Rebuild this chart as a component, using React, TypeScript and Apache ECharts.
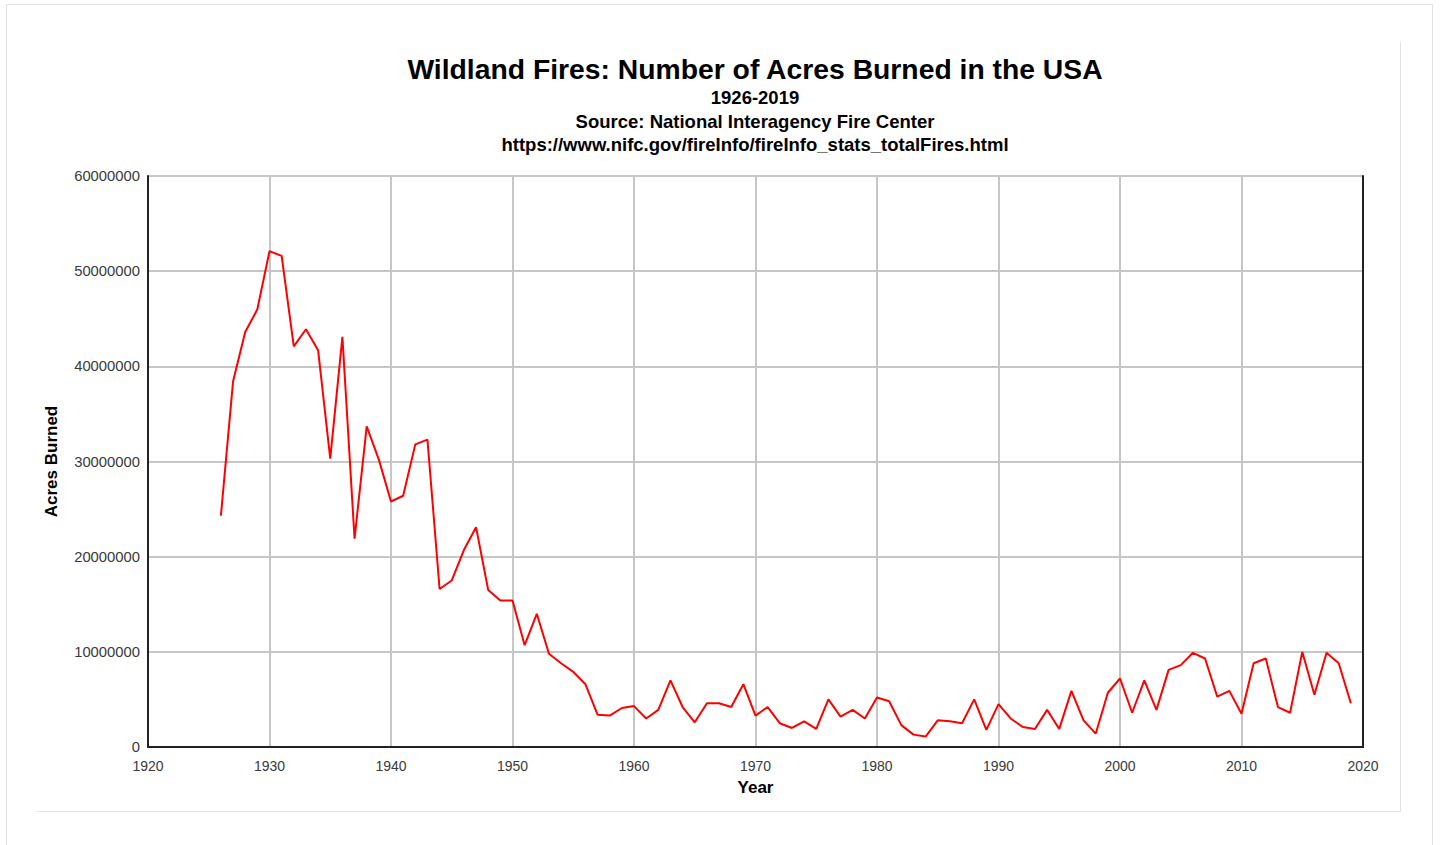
import React, { useEffect, useRef } from "react";
import * as echarts from "echarts";

const titleText = "Wildland Fires: Number of Acres Burned in the USA";
const subtitleLines = [
  "1926-2019",
  "Source: National Interagency Fire Center",
  "https://www.nifc.gov/fireInfo/fireInfo_stats_totalFires.html",
];
const xAxisName = "Year";
const yAxisName = "Acres Burned";

const years = [
  1926, 1927, 1928, 1929, 1930, 1931, 1932, 1933, 1934, 1935,
  1936, 1937, 1938, 1939, 1940, 1941, 1942, 1943, 1944, 1945,
  1946, 1947, 1948, 1949, 1950, 1951, 1952, 1953, 1954, 1955,
  1956, 1957, 1958, 1959, 1960, 1961, 1962, 1963, 1964, 1965,
  1966, 1967, 1968, 1969, 1970, 1971, 1972, 1973, 1974, 1975,
  1976, 1977, 1978, 1979, 1980, 1981, 1982, 1983, 1984, 1985,
  1986, 1987, 1988, 1989, 1990, 1991, 1992, 1993, 1994, 1995,
  1996, 1997, 1998, 1999, 2000, 2001, 2002, 2003, 2004, 2005,
  2006, 2007, 2008, 2009, 2010, 2011, 2012, 2013, 2014, 2015,
  2016, 2017, 2018, 2019,
];

const acresBurned = [
  24300000, 38400000, 43600000, 46000000, 52100000, 51600000, 42100000, 43900000, 41700000, 30300000,
  43100000, 21900000, 33700000, 30200000, 25800000, 26400000, 31800000, 32300000, 16600000, 17500000,
  20700000, 23100000, 16500000, 15400000, 15400000, 10700000, 14000000, 9800000, 8800000, 7900000,
  6600000, 3400000, 3300000, 4100000, 4300000, 3000000, 3900000, 7000000, 4200000, 2600000,
  4600000, 4600000, 4200000, 6600000, 3300000, 4200000, 2500000, 2000000, 2700000, 1900000,
  5000000, 3200000, 3900000, 3000000, 5200000, 4800000, 2300000, 1300000, 1100000, 2800000,
  2700000, 2500000, 5000000, 1800000, 4500000, 3000000, 2100000, 1900000, 3900000, 1900000,
  5900000, 2800000, 1400000, 5700000, 7200000, 3600000, 7000000, 3900000, 8100000, 8600000,
  9900000, 9300000, 5300000, 5900000, 3500000, 8800000, 9300000, 4200000, 3600000, 10000000,
  5500000, 9900000, 8800000, 4600000,
];

const xMin = 1920;
const xMax = 2020;
const xStep = 10;
const yMin = 0;
const yMax = 60000000;
const yStep = 10000000;

const FONT = "Liberation Sans, Arial, sans-serif";

export default function App() {
  const ref = useRef<HTMLDivElement>(null);

  useEffect(() => {
    if (!ref.current) return;
    const chart = echarts.init(ref.current, undefined, { renderer: "svg" });
    const seriesData = years.map((y, i) => [y, acresBurned[i]]);
    const borderColor = "#e2e2e2";
    const frame = { show: true, lineStyle: { color: "#222222", width: 2 } };
    const titleCenterX = 750;

    const subTitles = subtitleLines.map((t, i) => ({
      text: t,
      left: titleCenterX,
      textAlign: "center",
      top: 83 + i * 23.5,
      textStyle: {
        fontFamily: FONT,
        fontSize: 18.5,
        fontWeight: "bold",
        color: "#000000",
      },
    }));

    chart.setOption({
      animation: false,
      backgroundColor: "#ffffff",
      title: [
        {
          text: titleText,
          left: titleCenterX,
          textAlign: "center",
          top: 50,
          textStyle: {
            fontFamily: FONT,
            fontSize: 28.3,
            fontWeight: "bold",
            color: "#000000",
          },
        },
        ...subTitles,
      ],
      graphic: [
        { type: "line", shape: { x1: 6.5, y1: 4, x2: 6.5, y2: 845 }, style: { stroke: borderColor, lineWidth: 1 }, silent: true },
        { type: "line", shape: { x1: 6, y1: 4.5, x2: 1433, y2: 4.5 }, style: { stroke: borderColor, lineWidth: 1 }, silent: true },
        { type: "line", shape: { x1: 1432.5, y1: 4, x2: 1432.5, y2: 845 }, style: { stroke: borderColor, lineWidth: 1 }, silent: true },
        { type: "line", shape: { x1: 37, y1: 811.5, x2: 1401, y2: 811.5 }, style: { stroke: borderColor, lineWidth: 1 }, silent: true },
        { type: "line", shape: { x1: 1400.5, y1: 42, x2: 1400.5, y2: 812 }, style: { stroke: borderColor, lineWidth: 1 }, silent: true },
      ],
      grid: {
        left: 148,
        right: 77,
        top: 176,
        bottom: 98,
      },
      xAxis: [
        {
          type: "value",
          min: xMin,
          max: xMax,
          interval: xStep,
          name: xAxisName,
          nameLocation: "middle",
          nameGap: 32,
          nameTextStyle: {
            fontFamily: FONT,
            fontSize: 17,
            fontWeight: "bold",
            color: "#000000",
          },
          axisLine: frame,
          axisTick: { show: false },
          axisLabel: {
            margin: 12,
            fontFamily: FONT,
            fontSize: 14,
            color: "#3a3a3a",
            formatter: (v: number) => String(v),
          },
          splitLine: { show: true, lineStyle: { color: "#c6c6c6", width: 2 } },
        },
        {
          type: "value",
          position: "top",
          min: xMin,
          max: xMax,
          interval: xStep,
          axisLine: frame,
          axisTick: { show: false },
          axisLabel: { show: false },
          splitLine: { show: false },
        },
      ],
      yAxis: [
        {
          type: "value",
          min: yMin,
          max: yMax,
          interval: yStep,
          name: yAxisName,
          nameLocation: "middle",
          nameGap: 88,
          nameRotate: 90,
          nameTextStyle: {
            fontFamily: FONT,
            fontSize: 17,
            fontWeight: "bold",
            color: "#000000",
          },
          axisLine: frame,
          axisTick: { show: false },
          axisLabel: {
            margin: 8,
            fontFamily: FONT,
            fontSize: 14.8,
            color: "#3a3a3a",
            formatter: (v: number) => String(v),
          },
          splitLine: { show: true, lineStyle: { color: "#c6c6c6", width: 2 } },
        },
        {
          type: "value",
          position: "right",
          min: yMin,
          max: yMax,
          interval: yStep,
          axisLine: frame,
          axisTick: { show: false },
          axisLabel: { show: false },
          splitLine: { show: false },
        },
      ],
      series: [
        {
          type: "line",
          xAxisIndex: 0,
          yAxisIndex: 0,
          data: seriesData,
          showSymbol: false,
          symbol: "none",
          lineStyle: { color: "#ff0000", width: 2 },
          itemStyle: { color: "#ff0000" },
          z: 5,
        },
      ],
    });

    return () => chart.dispose();
  }, []);

  return (
    <div
      ref={ref}
      style={{ position: "absolute", left: 0, top: 0, width: 1440, height: 845 }}
    />
  );
}
